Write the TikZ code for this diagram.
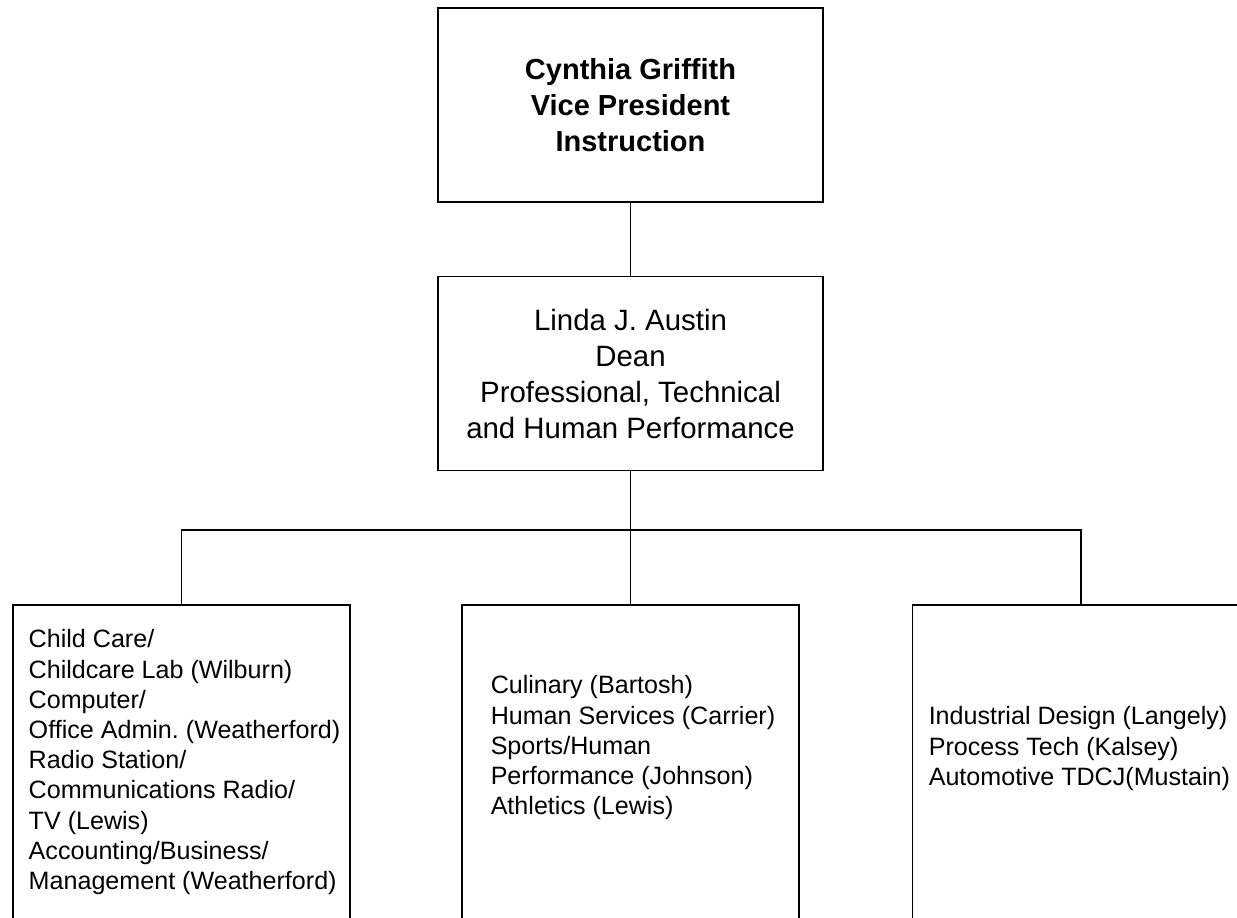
\documentclass[tikz,border=0pt]{standalone}
\usepackage{fontspec}
\setmainfont{Liberation Sans}
\frenchspacing
\begin{document}
\begin{tikzpicture}[x=0.5pt, y=-0.5pt, line width=0.75pt,
	head/.style={draw, minimum width=192.5pt, minimum height=97pt, inner sep=0pt, align=center, font=\fontsize{14.7}{18}\selectfont},
	unit/.style={draw, anchor=north, minimum width=168.5pt, minimum height=320pt, inner sep=0pt},
	list/.style={anchor=north west, align=left, inner sep=0pt, font=\fontsize{12.55}{15.1}\selectfont}]
		\useasboundingbox (0,0) rectangle (1237,917);
		\node[head, font=\bfseries\fontsize{14.5}{18}\selectfont] at (630.5,105) (VP) {Cynthia Griffith\\Vice President\\Instruction};
		\node[head] at (630.5,373.5) (Dean) {Linda J. Austin\\Dean\\Professional, Technical\\and Human Performance};
		\coordinate (Bus) at (630.5,530);
		
		\node[unit] at (181.5,604) (Left) {};
		\node[unit] at (630.5,604) (Mid) {};
		\node[unit] at (1081,604) (Right) {};
		
		\node[list] at (28,629) (LeftText) {Child Care/\\Childcare Lab (Wilburn)\\Computer/\\Office Admin. (Weatherford)\\Radio Station/\\Communications Radio/\\TV (Lewis)\\Accounting/Business/\\Management (Weatherford)};
		\node[list] at (490,675) (MidText) {Culinary (Bartosh)\\Human Services (Carrier)\\Sports/Human\\Performance (Johnson)\\Athletics (Lewis)};
		\node[list] at (928,706) (RightText) {Industrial Design (Langely)\\Process Tech (Kalsey)\\Automotive TDCJ(Mustain)};
		
		\draw (VP) -- (Dean) (Dean) -- (Bus) -- (Mid);
		\draw (Left.north) |- (Bus) -| (Right.north);
\end{tikzpicture}
\end{document}
